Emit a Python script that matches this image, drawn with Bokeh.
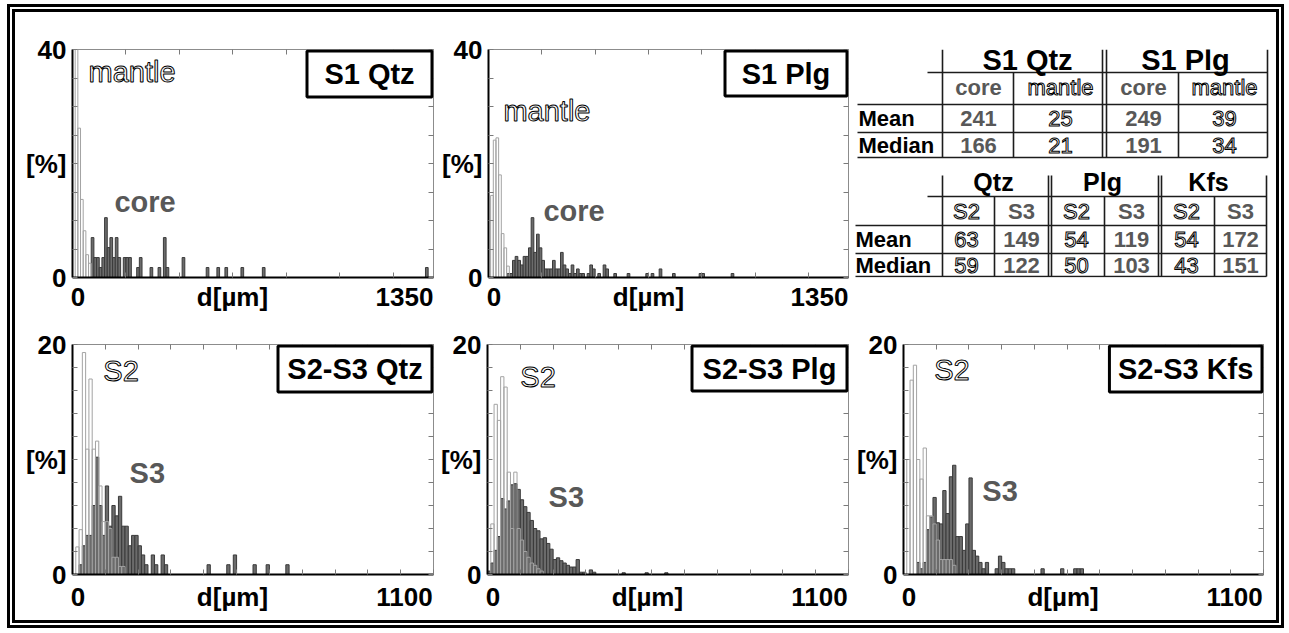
from bokeh.plotting import figure
from bokeh.models import Range1d, FixedTicker, LinearAxis, Label, BoxAnnotation, Spacer
from bokeh.layouts import row, column
from bokeh.embed import file_html
from bokeh.resources import INLINE

FONT = "Liberation Sans"
BIN_W = 10  # bin width in micrometres

# ------------------------------------------------------------------ data
# S1 Qtz  (x = bin centre in um, y = frequency in %)
s1qtz_mantle_d = [15, 25, 35, 45, 55, 65]
s1qtz_mantle_pct = [40.0, 26.2, 13.7, 8.2, 4.0, 2.5]
s1qtz_core_d = [75, 85, 95, 105, 115, 125, 135, 145, 155, 165, 175, 195, 205, 215,
                245, 255, 295, 325, 345, 355, 415, 505, 545, 575, 635, 715, 1325]
s1qtz_core_pct = [7.0, 3.5, 3.5, 1.75, 3.5, 10.5, 5.25, 7.0, 3.5, 7.0, 3.5, 3.5, 3.5, 3.5,
                  1.75, 3.5, 1.75, 1.75, 7.0, 1.75, 3.5, 1.75, 1.75, 1.75, 1.75, 1.75, 1.75]

# S1 Plg
s1plg_mantle_d = [13, 23, 33, 43, 53, 63, 73]
s1plg_mantle_pct = [14.4, 24.1, 24.5, 18.0, 7.7, 5.2, 2.0]
s1plg_core_d = [75, 85, 95, 105, 115, 125, 135, 145, 155, 165, 175, 185, 195, 205, 215,
                225, 235, 245, 255, 265, 275, 285, 295, 305, 315, 325, 335, 345, 355, 375,
                385, 395, 415, 435, 445, 475, 525, 595, 615, 645, 695, 795, 805, 915]
s1plg_core_pct = [0.7, 0.7, 3.0, 3.7, 3.0, 2.2, 3.7, 3.7, 5.2, 10.5, 4.4, 7.6, 5.2, 3.0, 1.5,
                  1.5, 1.5, 3.0, 1.5, 1.5, 4.4, 2.2, 1.5, 0.7, 2.2, 0.7, 1.5, 0.7, 0.7, 0.7,
                  2.2, 1.5, 0.7, 2.2, 1.5, 0.7, 0.7, 0.7, 0.7, 1.5, 0.7, 0.7, 0.7, 0.7]

# S2-S3 Qtz
qtz_s2_d = [15, 25, 35, 45, 55, 65, 75, 85, 95, 105, 115, 125, 135, 145, 155]
qtz_s2_pct = [2.4, 3.9, 19.3, 10.9, 17.0, 10.9, 11.6, 7.7, 4.6, 4.6, 4.0, 1.5, 1.5, 0.7, 0.7]
qtz_s3_d = [25, 35, 45, 55, 65, 75, 85, 95, 105, 115, 125, 135, 145, 155, 165, 175, 185,
            195, 205, 215, 225, 245, 255, 275, 285, 415, 475, 495, 555, 595, 655]
qtz_s3_pct = [0.85, 2.5, 3.4, 3.4, 6.0, 10.2, 6.0, 3.4, 7.7, 4.2, 6.0, 5.1, 6.8, 4.2, 4.2,
              2.5, 3.4, 3.4, 2.5, 1.7, 0.85, 1.7, 0.85, 1.7, 0.85, 0.85, 0.85, 1.7, 0.85,
              0.85, 0.85]

# S2-S3 Plg
plg_s2_d = [15, 25, 35, 45, 55, 65, 75, 85, 95, 105, 115, 125, 135, 145, 155, 165]
plg_s2_pct = [4.4, 14.8, 13.4, 17.2, 16.3, 8.9, 4.0, 8.9, 4.0, 3.0, 2.0, 1.5, 1.0, 0.8, 0.5, 0.3]
plg_s3_d = [5, 15, 25, 35, 45, 55, 65, 75, 85, 95, 105, 115, 125, 135, 145, 155, 165, 175,
            185, 195, 205, 215, 225, 235, 245, 255, 265, 275, 285, 295, 315, 325, 415, 485, 545]
plg_s3_pct = [0.3, 1.0, 2.1, 3.3, 6.6, 5.7, 6.4, 7.8, 7.9, 7.4, 6.5, 5.9, 5.4, 4.7, 4.0, 3.8,
              3.1, 3.2, 2.7, 2.2, 1.3, 1.45, 1.2, 1.0, 0.8, 0.65, 0.65, 1.3, 0.2, 0.2, 0.4,
              0.2, 0.15, 0.15, 0.15]

# S2-S3 Kfs
kfs_s2_d = [15, 25, 35, 45, 55, 65, 75, 85, 95, 105, 115, 125, 135, 145, 155]
kfs_s2_pct = [10.0, 16.9, 18.2, 10.0, 8.3, 11.0, 5.1, 5.1, 4.4, 3.0, 1.3, 1.3, 1.3, 1.3, 0.8]
kfs_s3_d = [45, 55, 65, 75, 85, 95, 105, 115, 125, 135, 145, 155, 165, 175, 185, 195, 205,
            215, 225, 235, 245, 255, 285, 295, 305, 315, 325, 335, 425, 485, 525, 535, 545]
kfs_s3_pct = [1.05, 0.5, 1.05, 3.9, 5.0, 6.7, 4.5, 4.4, 7.3, 5.3, 8.5, 9.5, 3.3, 3.3, 2.1,
              4.4, 8.4, 2.1, 1.6, 1.05, 0.5, 1.05, 0.5, 1.6, 1.05, 0.5, 0.5, 0.5, 0.5, 0.5,
              0.5, 0.5, 0.5]

# axis ranges / ticks / tick labels
top_xmax, top_ymax = 1350, 40
bot_xmax, bot_ymax = 1100, 20
top_xticks = [0, 200, 400, 600, 800, 1000, 1200]
top_yticks = [0, 5, 10, 15, 20, 25, 30, 35, 40]
bot_xticks = [0, 100, 200, 300, 400, 500, 600, 700, 800, 900, 1000, 1100]
bot_yticks = [0, 2, 4, 6, 8, 10, 12, 14, 16, 18, 20]
top_xlabels = ["0", "1350"]
top_ylabels = ["0", "40"]
bot_xlabels = ["0", "1100"]
bot_ylabels = ["0", "20"]
x_axis_title = "d[µm]"
y_axis_title = "[%]"

# summary tables
t1_groups = ["S1 Qtz", "S1 Plg"]
t1_sub = ["core", "mantle", "core", "mantle"]
t1_rows = ["Mean", "Median"]
t1_mean = [241, 25, 249, 39]
t1_median = [166, 21, 191, 34]
t2_groups = ["Qtz", "Plg", "Kfs"]
t2_sub = ["S2", "S3", "S2", "S3", "S2", "S3"]
t2_rows = ["Mean", "Median"]
t2_mean = [63, 149, 54, 119, 54, 172]
t2_median = [59, 122, 50, 103, 43, 151]

# ------------------------------------------------------------------ style
DARK_FILL = "#6b6b6b"
DARK_LINE = "#3a3a3a"
LIGHT_LINE = "#a3a3a3"
TICK_COL = "#7a7a7a"
GREY_TEXT = "#585858"
OUTLINE = "#000000"
HAS_OUTLINE = "text_outline_color" in Label.properties()

# page geometry (absolute px)
X0, XB1, XB2, X3 = 15, 438, 854, 1276
Y0, YB, Y1 = 12, 323, 620
ROW1_FRAME = (49, 277)
ROW2_FRAME = (344, 574)


def add_label(p, x, y, text, size, bold=True, color="black", align="center",
              baseline="middle", outline=False):
    kw = dict(x=x, y=y, text=text, text_font=FONT, text_font_size=f"{size}px",
              text_font_style="bold" if bold else "normal",
              text_align=align, text_baseline=baseline)
    if outline and HAS_OUTLINE:
        kw.update(text_color="white", text_outline_color=OUTLINE)
    elif outline:
        kw.update(text_color=OUTLINE)
    else:
        kw.update(text_color=color)
    p.add_layout(Label(**kw))


def mark_axis(minor):
    # tick marks only (no labels): inward minor ticks on the box
    return LinearAxis(ticker=FixedTicker(ticks=[], minor_ticks=minor),
                      minor_tick_in=5, minor_tick_out=0, minor_tick_line_color=TICK_COL,
                      major_tick_line_color=None, axis_line_color=None,
                      major_label_standoff=0)


def label_axis(label_pos, labels, minor, standoff):
    ov = {pos: lab for pos, lab in zip(label_pos, labels)}
    return LinearAxis(ticker=FixedTicker(ticks=label_pos, minor_ticks=minor),
                      major_label_overrides=ov,
                      major_tick_line_color=None, major_tick_in=0, major_tick_out=0,
                      minor_tick_in=5, minor_tick_out=0, minor_tick_line_color=TICK_COL,
                      axis_line_color="black", axis_line_width=2,
                      major_label_standoff=standoff,
                      major_label_text_font=FONT, major_label_text_font_size="26px",
                      major_label_text_font_style="bold", major_label_text_color="black")


def hist(tile, frame_x, frame_y, xmax, ymax, xticks, yticks, xlabels, ylabels,
         light_d, light_p, dark_d, dark_p, box, title,
         light_txt, light_pos, dark_txt, dark_pos, x_standoff):
    tx0, ty0, tx1, ty1 = tile
    fx0, fx1 = frame_x
    fy0, fy1 = frame_y
    p = figure(width=tx1 - tx0, height=ty1 - ty0, title=None,
               x_range=Range1d(0, xmax), y_range=Range1d(0, ymax),
               output_backend="svg", toolbar_location=None, tools="",
               x_axis_location=None, y_axis_location=None,
               min_border_left=fx0 - tx0, min_border_right=tx1 - fx1,
               min_border_top=fy0 - ty0, min_border_bottom=ty1 - fy1,
               outline_line_color="#8c8c8c", outline_line_width=1,
               background_fill_color="white", border_fill_color="white")
    p.grid.visible = False
    sx = xmax / (fx1 - fx0)
    sy = ymax / (fy1 - fy0)

    # bottom axis: labels "0", "d[µm]", max value placed as in the original figure
    xpos = [round(5.5 * sx, 2), round(160 * sx, 2), round(xmax - 29 * sx, 2)]
    p.add_layout(label_axis(xpos, [xlabels[0], x_axis_title, xlabels[1]], xticks,
                            x_standoff), "below")
    ypos = [yticks[0], ymax / 2, yticks[-1]]
    p.add_layout(label_axis(ypos, [ylabels[0], y_axis_title, ylabels[1]], yticks, 6), "left")
    p.add_layout(mark_axis(xticks), "above")
    p.add_layout(mark_axis(yticks), "right")

    p.vbar(x=dark_d, width=BIN_W, top=dark_p, bottom=0,
           fill_color=DARK_FILL, line_color=DARK_LINE, line_width=1)
    p.vbar(x=light_d, width=BIN_W, top=light_p, bottom=0,
           fill_color=None, line_color=LIGHT_LINE, line_width=1)

    # title box (pixel size converted to data units)
    bw, bh = box
    p.add_layout(BoxAnnotation(left=xmax - (bw - 1.5) * sx, right=xmax - 1.5 * sx,
                               top=ymax - 1.5 * sy, bottom=ymax - (bh - 1.5) * sy,
                               fill_color="white", fill_alpha=1.0,
                               line_color="black", line_width=3, line_alpha=1.0))
    add_label(p, xmax - (bw / 2) * sx, ymax - (bh / 2) * sy, title, 29)

    # series labels
    add_label(p, light_pos[0], light_pos[1], light_txt, 29, bold=False,
              align="left", outline=True)
    add_label(p, dark_pos[0], dark_pos[1], dark_txt, 29, color=GREY_TEXT, align="left")
    return p


f1 = hist((X0, Y0, XB1, YB), (72, 433), ROW1_FRAME, top_xmax, top_ymax, top_xticks, top_yticks,
          top_xlabels, top_ylabels, s1qtz_mantle_d, s1qtz_mantle_pct, s1qtz_core_d, s1qtz_core_pct,
          (128, 49), "S1 Qtz", "mantle", (60, 36.0), "core", (157, 13.2), 4)
f2 = hist((XB1, Y0, XB2, YB), (488, 848), ROW1_FRAME, top_xmax, top_ymax, top_xticks, top_yticks,
          top_xlabels, top_ylabels, s1plg_mantle_d, s1plg_mantle_pct, s1plg_core_d, s1plg_core_pct,
          (125, 48), "S1 Plg", "mantle", (56, 29.2), "core", (206, 11.6), 4)
f4 = hist((X0, YB, XB1, Y1), (72, 433), ROW2_FRAME, bot_xmax, bot_ymax, bot_xticks, bot_yticks,
          bot_xlabels, bot_ylabels, qtz_s2_d, qtz_s2_pct, qtz_s3_d, qtz_s3_pct,
          (157, 49), "S2-S3 Qtz", "S2", (94, 17.7), "S3", (174, 8.8), 7)
f5 = hist((XB1, YB, XB2, Y1), (487, 848), ROW2_FRAME, bot_xmax, bot_ymax, bot_xticks, bot_yticks,
          bot_xlabels, bot_ylabels, plg_s2_d, plg_s2_pct, plg_s3_d, plg_s3_pct,
          (158, 48), "S2-S3 Plg", "S2", (100, 17.2), "S3", (186, 6.75), 7)
f6 = hist((XB2, YB, X3, Y1), (902, 1263), ROW2_FRAME, bot_xmax, bot_ymax, bot_xticks, bot_yticks,
          bot_xlabels, bot_ylabels, kfs_s2_d, kfs_s2_pct, kfs_s3_d, kfs_s3_pct,
          (156, 49), "S2-S3 Kfs", "S2", (94, 17.8), "S3", (241, 7.3), 7)

# ------------------------------------------------------------------ tables
# the table canvas shares the row's frame band (page y 49..277), coordinates are page px
tab = figure(width=X3 - XB2, height=YB - Y0, title=None,
             x_range=Range1d(XB2, X3), y_range=Range1d(ROW1_FRAME[1], ROW1_FRAME[0]),
             output_backend="svg", toolbar_location=None, tools="",
             x_axis_location=None, y_axis_location=None,
             min_border_left=0, min_border_right=0,
             min_border_top=ROW1_FRAME[0] - Y0, min_border_bottom=YB - ROW1_FRAME[1],
             outline_line_color=None, background_fill_color="white", border_fill_color="white")
tab.grid.visible = False

LW, LC = 1.6, "#1c1c1c"
# table 1 rules
t1_h_y = [72, 104, 132, 157]
t1_h_x = [(927, 1267), (857, 1267), (857, 1267), (857, 1267)]
t1_v_x = [942, 1013, 1102, 1106, 1178, 1267]
t1_v_y = [(49, 157), (72, 157), (49, 157), (49, 157), (72, 157), (49, 157)]
# table 2 rules
t2_h_y = [196, 225, 253, 276]
t2_h_x = [(927, 1266), (855, 1266), (855, 1266), (855, 1266)]
t2_v_x = [942, 994, 1048, 1051, 1104, 1158, 1161, 1214, 1266]
t2_v_y = [(175, 276), (196, 276), (175, 276), (175, 276), (196, 276), (175, 276),
          (175, 276), (196, 276), (175, 276)]

for hy, hx in [(t1_h_y, t1_h_x), (t2_h_y, t2_h_x)]:
    tab.segment(x0=[a for a, b in hx], x1=[b for a, b in hx], y0=hy, y1=hy,
                line_color=LC, line_width=LW)
for vx, vy in [(t1_v_x, t1_v_y), (t2_v_x, t2_v_y)]:
    tab.segment(x0=vx, x1=vx, y0=[a for a, b in vy], y1=[b for a, b in vy],
                line_color=LC, line_width=LW)

# table 1 text
t1_group_x = [1027, 1185]
t1_col_x = [978, 1060, 1143, 1224]
t1_y = {"group": 59, "sub": 87, "Mean": 118, "Median": 145}
for gx, g in zip(t1_group_x, t1_groups):
    add_label(tab, gx, t1_y["group"], g, 29)
for i, (cx, s) in enumerate(zip(t1_col_x, t1_sub)):
    is_mantle = (s == "mantle")
    add_label(tab, cx, t1_y["sub"], s, 22, bold=not is_mantle, color=GREY_TEXT, outline=is_mantle)
    add_label(tab, cx, t1_y["Mean"], str(t1_mean[i]), 22, bold=not is_mantle,
              color=GREY_TEXT, outline=is_mantle)
    add_label(tab, cx, t1_y["Median"], str(t1_median[i]), 22, bold=not is_mantle,
              color=GREY_TEXT, outline=is_mantle)
for r in t1_rows:
    add_label(tab, 858, t1_y[r], r, 22, align="left")

# table 2 text
t2_group_x = [993, 1102, 1208]
t2_col_x = [966, 1021, 1076, 1131, 1186, 1240]
t2_y = {"group": 181, "sub": 211, "Mean": 239, "Median": 265}
for gx, g in zip(t2_group_x, t2_groups):
    add_label(tab, gx, t2_y["group"], g, 25)
for i, (cx, s) in enumerate(zip(t2_col_x, t2_sub)):
    is_s2 = (s == "S2")
    add_label(tab, cx, t2_y["sub"], s, 22, bold=not is_s2, color=GREY_TEXT, outline=is_s2)
    add_label(tab, cx, t2_y["Mean"], str(t2_mean[i]), 22, bold=not is_s2,
              color=GREY_TEXT, outline=is_s2)
    add_label(tab, cx, t2_y["Median"], str(t2_median[i]), 22, bold=not is_s2,
              color=GREY_TEXT, outline=is_s2)
for r in t2_rows:
    add_label(tab, 855, t2_y[r], r, 22, align="left")

# ------------------------------------------------------------------ layout
grid = column(row(f1, f2, tab), row(f4, f5, f6),
              styles={"border": "8px double #000000", "background-color": "white"})
page = column(Spacer(height=4), row(Spacer(width=7), grid))

open("out.html", "w").write(file_html(page, INLINE))
